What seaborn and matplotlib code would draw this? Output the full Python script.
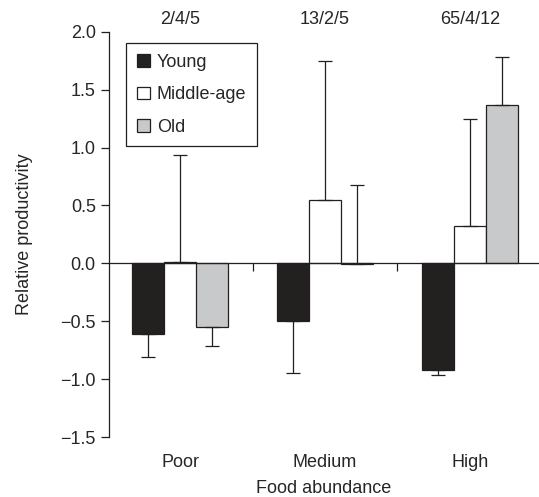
import matplotlib
matplotlib.use("Agg")
import matplotlib.pyplot as plt
import matplotlib.transforms as mtransforms
import seaborn as sns
import pandas as pd
import numpy as np

categories = ["Poor", "Medium", "High"]
groups = ["Young", "Middle-age", "Old"]
young = [-0.613, -0.495, -0.918]
middle = [0.014, 0.544, 0.325]
old = [-0.553, -0.009, 1.37]
young_err_down = [0.20, 0.45, 0.045]
young_err_up = [0.0, 0.0, 0.0]
middle_err_down = [0.0, 0.0, 0.0]
middle_err_up = [0.924, 1.206, 0.918]
old_err_down = [0.157, 0.0, 0.0]
old_err_up = [0.0, 0.683, 0.409]
sample_sizes = ["2/4/5", "13/2/5", "65/4/12"]
colors = {"Young": "#231f20", "Middle-age": "#ffffff", "Old": "#c8c9cb"}

sns.set_style("ticks")
plt.rcParams["font.family"] = ["Liberation Sans", "DejaVu Sans"]
plt.rcParams["font.size"] = 13

rows = []
for g, vals in zip(groups, [young, middle, old]):
    for c, v in zip(categories, vals):
        rows.append({"food": c, "age": g, "value": v})
df = pd.DataFrame(rows)

fig = plt.figure(figsize=(5.39, 4.97), dpi=100)
ax = fig.add_axes([0.2022, 0.1207, 0.7978, 0.8155])
ink = "#231f20"

sns.barplot(data=df, x="food", y="value", hue="age", order=categories,
            hue_order=groups, palette=colors, width=0.66, errorbar=None,
            edgecolor=ink, linewidth=0.9, ax=ax, zorder=2)

errs = [(young_err_down, young_err_up), (middle_err_down, middle_err_up),
        (old_err_down, old_err_up)]
for cont, vals, (ed, eu) in zip(ax.containers, [young, middle, old], errs):
    xs = [p.get_x() + p.get_width() / 2 for p in cont.patches]
    ax.errorbar(xs, vals, yerr=[ed, eu], fmt="none", ecolor=ink,
                elinewidth=0.9, capsize=4.7, capthick=0.9, zorder=3)

ax.set_ylim(-1.5, 2.0)
ax.set_xlim(-0.49, 2.476)
ax.set_yticks(np.arange(-1.5, 2.01, 0.5))
ax.set_yticklabels([f"{v:.1f}".replace("-", "\u2212") for v in np.arange(-1.5, 2.01, 0.5)])
ax.tick_params(axis="y", direction="out", length=5.5, width=0.9, color=ink, pad=4)

ax.spines["top"].set_visible(False)
ax.spines["right"].set_visible(False)
ax.spines["bottom"].set_position(("data", 0))
for s in ["left", "bottom"]:
    ax.spines[s].set_color(ink)
    ax.spines[s].set_linewidth(0.9)
ax.set_xticks([0, 1, 2])
ax.set_xticklabels(["", "", ""])
ax.set_xticks([0.5, 1.5], minor=True)
ax.tick_params(axis="x", which="major", length=0)
ax.tick_params(axis="x", which="minor", direction="out", length=5.5, width=0.9, color=ink)
ax.set_xlabel("")
ax.set_ylabel("Relative productivity", labelpad=20)

sec = ax.secondary_xaxis(location=0)
sec.set_xticks([0, 1, 2])
sec.set_xticklabels(categories)
sec.tick_params(length=0, pad=12)
sec.spines["bottom"].set_visible(False)
sec.set_xlabel("Food abundance", labelpad=7)

trans = mtransforms.blended_transform_factory(ax.transData, ax.transAxes)
for i, s in enumerate(sample_sizes):
    ax.text(i, 1.008, s, transform=trans, ha="center", va="bottom")

handles, labels = ax.get_legend_handles_labels()
leg = ax.legend(handles, labels, loc="upper left", bbox_to_anchor=(0.04, 0.972),
                borderaxespad=0, frameon=True, fancybox=False, framealpha=1,
                edgecolor=ink, handlelength=0.7, handleheight=0.7,
                handletextpad=0.4, labelspacing=0.85, borderpad=0.6)
leg.get_frame().set_linewidth(0.9)

fig.savefig("out.png", dpi=100)
